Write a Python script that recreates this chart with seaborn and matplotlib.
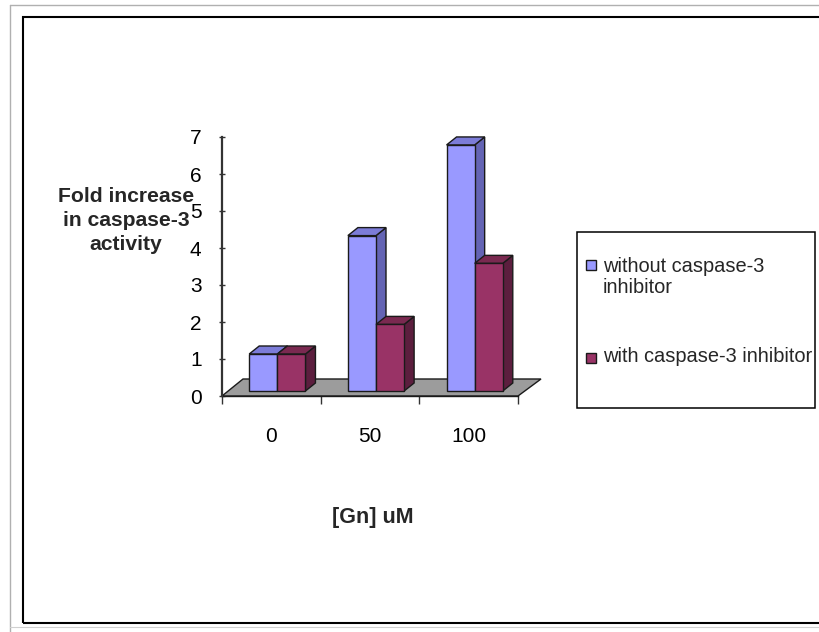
import numpy as np
import pandas as pd
import seaborn as sns
import matplotlib
matplotlib.use("Agg")
import matplotlib.pyplot as plt
from matplotlib.patches import Polygon, Rectangle
from matplotlib.lines import Line2D
from matplotlib.transforms import ScaledTranslation

# Fold increase in caspase-3 activity per [Gn] dose
doses = ["0", "50", "100"]
without_inhibitor = [1.0, 4.2, 6.65]
with_inhibitor = [1.0, 1.8, 3.45]
series = ["without caspase-3 inhibitor", "with caspase-3 inhibitor"]
legend_labels = ["without caspase-3\ninhibitor", "with caspase-3 inhibitor"]
y_ticks = [0, 1, 2, 3, 4, 5, 6, 7]
y_title_lines = ["Fold increase", "in caspase-3", "activity"]

front_colors = ["#9999FF", "#993366"]
side_colors = ["#6464B4", "#5C1E3E"]
top_colors = ["#7C7CD8", "#7A2950"]
floor_color = "#9C9C9C"
edge = "#1a1a1a"

sns.set_style("white")
plt.rcParams["font.family"] = ["Liberation Sans", "DejaVu Sans"]

W, H, DPI = 819, 632, 100
fig = plt.figure(figsize=(W / DPI, H / DPI), dpi=DPI)


def fx(px):
    return px / W


def fy(py):
    return 1 - py / H


ax = fig.add_axes([fx(222), fy(396), (518 - 222) / W, (396 - 137) / H])
ax.patch.set_alpha(0)

df = pd.DataFrame({
    "dose": doses * 2,
    "fold": without_inhibitor + with_inhibitor,
    "condition": [series[0]] * len(doses) + [series[1]] * len(doses),
})

sns.barplot(data=df, x="dose", y="fold", hue="condition", order=doses,
            hue_order=series, palette=front_colors, saturation=1,
            width=0.57, edgecolor=edge, linewidth=1.0, legend=False,
            err_kws={"linewidth": 0}, ax=ax)
ax.set_xlim(-0.5, 2.5)
ax.set_ylim(0, 7)

inv = ax.transData.inverted()


def shift(x, y, px, py):
    """Move a data point by a pixel offset (depth direction of the 3D look)."""
    d = ax.transData.transform((x, y)) + np.array([px, py])
    return inv.transform(d)


# floor of the 3D plot
floor = Polygon([shift(-0.5, 0, 0, 0), shift(2.5, 0, 0, 0),
                 shift(2.5, 0, 23, 17), shift(-0.5, 0, 21, 17)],
                closed=True, facecolor=floor_color, edgecolor=edge,
                linewidth=1.0, zorder=1, clip_on=False)
ax.add_patch(floor)

# front faces sit slightly back on the floor; add side and top faces
front_off = (6, 5)
back_off = (16, 13)
bars = sorted([p for p in ax.patches if p is not floor], key=lambda p: p.get_x())
blue_rgb = tuple(np.round(matplotlib.colors.to_rgb(front_colors[0]), 3))
for k, p in enumerate(bars):
    color_idx = 0 if tuple(np.round(p.get_facecolor()[:3], 3)) == blue_rgb else 1
    x0, w, h = p.get_x(), p.get_width(), p.get_height()
    x1 = x0 + w
    z = 2 + k * 0.1
    p.set_transform(ax.transData + ScaledTranslation(front_off[0] / DPI, front_off[1] / DPI,
                                                     fig.dpi_scale_trans))
    p.set_zorder(z + 0.02)
    p.set_clip_on(False)
    side = Polygon([shift(x1, 0, *front_off), shift(x1, h, *front_off),
                    shift(x1, h, *back_off), shift(x1, 0, *back_off)],
                   closed=True, facecolor=side_colors[color_idx], edgecolor=edge,
                   linewidth=1.0, zorder=z, clip_on=False)
    top = Polygon([shift(x0, h, *front_off), shift(x1, h, *front_off),
                   shift(x1, h, *back_off), shift(x0, h, *back_off)],
                  closed=True, facecolor=top_colors[color_idx], edgecolor=edge,
                  linewidth=1.0, zorder=z + 0.01, clip_on=False)
    ax.add_patch(side)
    ax.add_patch(top)

# axes
for s in ["top", "right"]:
    ax.spines[s].set_visible(False)
ax.spines["left"].set_color("#333333")
ax.spines["left"].set_linewidth(1.6)
ax.spines["bottom"].set_color(edge)
ax.spines["bottom"].set_linewidth(1.0)
ax.spines["left"].set_zorder(5)

ax.set_yticks(y_ticks)
ax.set_yticklabels([str(t) for t in y_ticks])
ax.tick_params(axis="y", direction="inout", length=4.5, width=1.0, color="#333333",
               pad=12.5, labelsize=15, labelcolor="black", left=True)
ax.set_xticks(range(len(doses)))
ax.set_xticklabels(doses)
ax.set_xticks([-0.5, 0.5, 1.5, 2.5], minor=True)
ax.tick_params(axis="x", which="major", length=0, pad=22.5, labelsize=15, labelcolor="black")
ax.tick_params(axis="x", which="minor", direction="out", length=6, width=1.0,
               color="#333333", bottom=True)
ax.set_xlabel("")
ax.set_ylabel("")

# value-axis title, one line per row, centred
for line, py in zip(y_title_lines, [196, 220, 244]):
    fig.text(fx(126), fy(py), line, ha="center", va="center",
             fontsize=15.2, fontweight="bold")
fig.text(fx(373), fy(517), "[Gn] uM", ha="center", va="center",
         fontsize=15.5, fontweight="bold")

# legend box
fig.add_artist(Rectangle((fx(577), fy(408)), (815 - 577) / W, (408 - 232) / H,
                         transform=fig.transFigure, facecolor="white",
                         edgecolor="black", linewidth=1.1))
handle_y = [265, 358]
text_y = [277, 357]
for i in range(len(series)):
    fig.add_artist(Rectangle((fx(586), fy(handle_y[i] + 5)), 10 / W, 10 / H,
                             transform=fig.transFigure, facecolor=front_colors[i],
                             edgecolor=edge, linewidth=1.0))
    fig.text(fx(603), fy(text_y[i]), legend_labels[i], ha="left", va="center",
             fontsize=14.4, linespacing=1.12)

# chart frame
fig.add_artist(Line2D([fx(10), fx(10)], [fy(632), fy(5)], transform=fig.transFigure,
                      color="#b0b0b0", linewidth=1.0))
fig.add_artist(Line2D([fx(10), fx(819)], [fy(5), fy(5)], transform=fig.transFigure,
                      color="#b0b0b0", linewidth=1.0))
fig.add_artist(Line2D([fx(10), fx(819)], [fy(627), fy(627)], transform=fig.transFigure,
                      color="#d0d0d0", linewidth=0.8))
fig.add_artist(Rectangle((fx(23), fy(623)), (830 - 23) / W, (623 - 17) / H,
                         transform=fig.transFigure, facecolor="none",
                         edgecolor="black", linewidth=1.5))

fig.savefig("out.png", dpi=DPI)
